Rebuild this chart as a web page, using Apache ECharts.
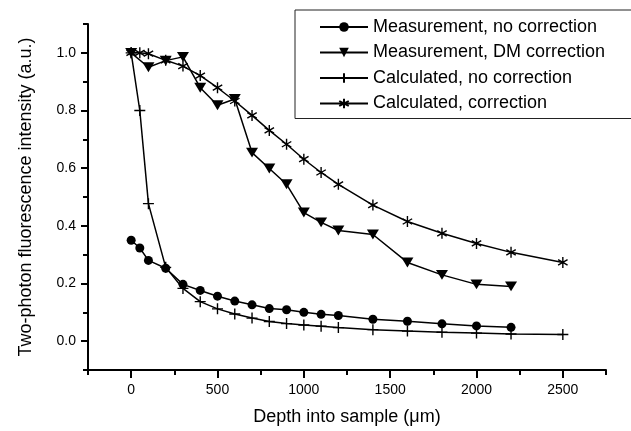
<!DOCTYPE html>
<html>
<head>
<meta charset="utf-8">
<script src="https://cdn.jsdelivr.net/npm/echarts@6/dist/echarts.min.js"></script>
<style>
html,body{margin:0;padding:0;background:#fff;}
#chart{width:631px;height:431px;}
</style>
</head>
<body>
<div id="chart"></div>
<script>
// ---- data ----
var seriesNames = ['Measurement, no correction', 'Measurement, DM correction', 'Calculated, no correction', 'Calculated, correction'];

var measNoCorrX = [0, 50, 100, 200, 300, 400, 500, 600, 700, 800, 900, 1000, 1100, 1200, 1400, 1600, 1800, 2000, 2200];
var measNoCorrY = [0.35, 0.323, 0.28, 0.253, 0.197, 0.176, 0.156, 0.139, 0.126, 0.113, 0.109, 0.100, 0.093, 0.089, 0.076, 0.069, 0.060, 0.053, 0.048];

var measDMX = [0, 100, 200, 300, 400, 500, 600, 700, 800, 900, 1000, 1100, 1200, 1400, 1600, 1800, 2000, 2200];
var measDMY = [1.0, 0.95, 0.973, 0.986, 0.879, 0.818, 0.84, 0.654, 0.599, 0.544, 0.446, 0.412, 0.384, 0.37, 0.273, 0.23, 0.197, 0.19];

var calcNoCorrX = [0, 50, 100, 200, 300, 400, 500, 600, 700, 800, 900, 1000, 1100, 1200, 1400, 1600, 1800, 2000, 2200, 2500];
var calcNoCorrY = [1.0, 0.80, 0.477, 0.256, 0.183, 0.137, 0.112, 0.094, 0.080, 0.068, 0.061, 0.056, 0.052, 0.047, 0.040, 0.035, 0.031, 0.028, 0.025, 0.023];

var calcCorrX = [0, 50, 100, 200, 300, 400, 500, 600, 700, 800, 900, 1000, 1100, 1200, 1400, 1600, 1800, 2000, 2200, 2500];
var calcCorrY = [1.0, 1.0, 0.997, 0.974, 0.954, 0.921, 0.879, 0.833, 0.783, 0.731, 0.683, 0.631, 0.585, 0.544, 0.472, 0.415, 0.374, 0.339, 0.308, 0.273];

var xMajorTicks = [0, 500, 1000, 1500, 2000, 2500];
var yMajorTicks = [0.0, 0.2, 0.4, 0.6, 0.8, 1.0];

var xTitle = 'Depth into sample (\u03BCm)';
var yTitle = 'Two-photon fluorescence intensity (a.u.)';

// ---- build ----
function pairs(xs, ys) { return xs.map(function (x, i) { return [x, ys[i]]; }); }

var FONT = '"Liberation Sans", Arial, Helvetica, sans-serif';
var symbols = ['circle', 'path://M0,0L10,0L5,9Z', 'path://M5,0L5,10M0,5L10,5', 'path://M5,0L5,10M0.7,2.5L9.3,7.5M0.7,7.5L9.3,2.5'];
var symbolSizes = [9, [12, 11], 11, 11];
var dataSets = [pairs(measNoCorrX, measNoCorrY), pairs(measDMX, measDMY), pairs(calcNoCorrX, calcNoCorrY), pairs(calcCorrX, calcCorrY)];

var series = seriesNames.map(function (name, i) {
  return {
    name: name,
    type: 'line',
    xAxisIndex: 0,
    yAxisIndex: 0,
    data: dataSets[i],
    symbol: symbols[i],
    symbolSize: symbolSizes[i],
    symbolKeepAspect: true,
    showAllSymbol: true,
    lineStyle: { color: '#000', width: 1.5 },
    itemStyle: { color: '#000', borderColor: '#000', borderWidth: i >= 2 ? 1.4 : 0 },
    emphasis: { disabled: true },
    animation: false
  };
});

var chart = echarts.init(document.getElementById('chart'), null, { renderer: 'canvas' });
chart.setOption({
  backgroundColor: '#fff',
  animation: false,
  textStyle: { fontFamily: FONT, color: '#000' },
  grid: { left: 88, right: 25, top: 24, bottom: 60, containLabel: false },
  legend: {
    orient: 'vertical',
    left: 295,
    top: 10,
    padding: [8, 40, 6, 24],
    itemWidth: 48,
    itemHeight: 12,
    itemGap: 7.5,
    borderColor: '#222',
    borderWidth: 1,
    backgroundColor: '#fff',
    textStyle: { fontFamily: FONT, fontSize: 18, color: '#000' },
    data: seriesNames
  },
  xAxis: [{
    type: 'value',
    min: -250, max: 2750, interval: 250,
    position: 'bottom',
    name: xTitle,
    nameLocation: 'middle',
    nameGap: 38,
    nameTextStyle: { fontFamily: FONT, fontSize: 18, color: '#000' },
    axisLine: { show: true, onZero: false, lineStyle: { color: '#000', width: 2 } },
    axisTick: { show: true, inside: false, length: 5, lineStyle: { color: '#000', width: 2 } },
    axisLabel: {
      margin: 13, fontFamily: FONT, fontSize: 14, color: '#000',
      formatter: function (v) { return (Math.round(v) % 500 === 0) ? String(Math.round(v)) : ''; }
    },
    splitLine: { show: false }
  }, {
    type: 'value',
    min: -250, max: 2750, interval: 250,
    position: 'bottom',
    axisLine: { show: false, onZero: false },
    axisTick: { show: true, length: 8, customValues: xMajorTicks, lineStyle: { color: '#000', width: 2 } },
    axisLabel: { show: false },
    splitLine: { show: false }
  }],
  yAxis: [{
    type: 'value',
    min: -0.1, max: 1.1, interval: 0.1,
    position: 'left',
    name: yTitle,
    nameLocation: 'middle',
    nameGap: 53,
    nameTextStyle: { fontFamily: FONT, fontSize: 18, color: '#000' },
    axisLine: { show: true, onZero: false, lineStyle: { color: '#000', width: 2 } },
    axisTick: { show: true, inside: false, length: 5, lineStyle: { color: '#000', width: 2 } },
    axisLabel: {
      margin: 12, fontFamily: FONT, fontSize: 14, color: '#000',
      formatter: function (v) { var k = Math.round(v * 10); return (k >= 0 && k % 2 === 0 && k <= 10) ? (k / 10).toFixed(1) : ''; }
    },
    splitLine: { show: false }
  }, {
    type: 'value',
    min: -0.1, max: 1.1, interval: 0.1,
    position: 'left',
    axisLine: { show: false, onZero: false },
    axisTick: { show: true, length: 7, customValues: yMajorTicks, lineStyle: { color: '#000', width: 2 } },
    axisLabel: { show: false },
    splitLine: { show: false }
  }],
  series: series
});
</script>
</body>
</html>
